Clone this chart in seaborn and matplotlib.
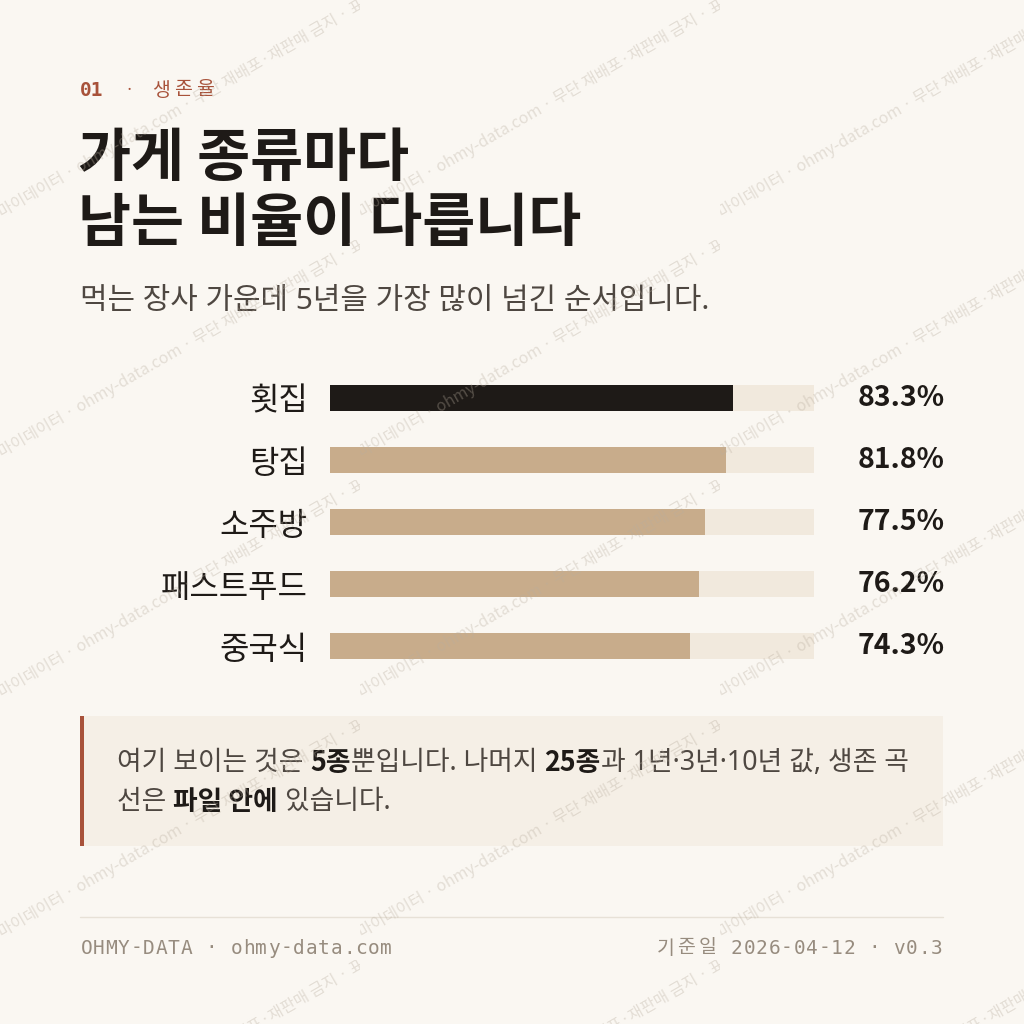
import matplotlib
matplotlib.use('Agg')
import matplotlib.pyplot as plt
import seaborn as sns
import pandas as pd
from matplotlib.transforms import Bbox, blended_transform_factory
from matplotlib.patches import Rectangle
from matplotlib.lines import Line2D

# ---- data ----
categories = ['횟집', '탕집', '소주방', '패스트푸드', '중국식']
survival_5y = [83.3, 81.8, 77.5, 76.2, 74.3]
value_labels = ['83.3%', '81.8%', '77.5%', '76.2%', '74.3%']
highlight = '횟집'
scale_max = [100, 100, 100, 100, 100]

eyebrow = ['01', '·', '생', '존', '율']
title_lines = ['가게 종류마다', '남는 비율이 다릅니다']
subtitle = '먹는 장사 가운데 5년을 가장 많이 넘긴 순서입니다.'
note_line1 = [('여기 보이는 것은 ', False), ('5종', True), ('뿐입니다. 나머지 ', False),
              ('25종', True), ('과 1년·3년·10년 값, 생존 곡', False)]
note_line2 = [('선은 ', False), ('파일 안에', True), (' 있습니다.', False)]
footer_left = 'OHMY-DATA · ohmy-data.com'
footer_right = '기준일 2026-04-12 · v0.3'
watermark = '마이데이터 · ohmy-data.com · 무단 재배포·재판매 금지 · 표본'

# ---- style ----
sns.set_theme(style='white')
KR = ['Noto Sans CJK KR', 'DejaVu Sans']
TXT = ['Noto Sans', 'Noto Sans CJK KR', 'DejaVu Sans']
MONO = ['DejaVu Sans Mono', 'Noto Sans CJK KR']
plt.rcParams['font.family'] = KR

BG = '#FAF7F2'
INK = '#1E1A17'
BODY = '#4E4741'
TAN = '#C8AC8B'
TRACK = '#F1E9DD'
RUST = '#A8523A'
BOX = '#F5EFE6'
MUTED = '#978C7F'
RULE = '#E7E1D7'

W = H = 1024
fig = plt.figure(figsize=(10.24, 10.24), dpi=100, facecolor=BG)


def fx(x):
    return x / W


def fy(y):
    return 1 - y / H


# ---- bar chart ----
ax = fig.add_axes([fx(330), fy(677), 484 / W, 310 / H])
ax.set_facecolor('none')
df = pd.DataFrame({'cat': categories, 'val': survival_5y, 'track': scale_max})
bw = 26 / 62
sns.barplot(data=df, y='cat', x='track', color=TRACK, width=bw, ax=ax,
            saturation=1, linewidth=0)
palette = {c: (INK if c == highlight else TAN) for c in categories}
sns.barplot(data=df, y='cat', x='val', hue='cat', palette=palette, width=bw,
            ax=ax, saturation=1, legend=False, linewidth=0)
ax.set_xlim(0, max(scale_max))
ax.set_ylim(len(categories) - 0.5, -0.5)
ax.set_xlabel('')
ax.set_ylabel('')
ax.set_xticks([])
sns.despine(ax=ax, left=True, bottom=True)
ax.tick_params(axis='y', length=0, pad=16, labelsize=23, labelcolor=INK)
for lab in ax.get_yticklabels():
    lab.set_family(KR)
tr = blended_transform_factory(ax.transAxes, ax.transData)
for i, lbl in enumerate(value_labels):
    ax.text(528 / 484, i, lbl, transform=tr, ha='left', va='center',
            fontsize=20.5, weight='bold', color=INK, family=KR)

# ---- header ----
eb_x = [80, 125, 152, 174, 196]
for s, x in zip(eyebrow, eb_x):
    fig.text(fx(x), fy(90), s, fontsize=14 if s != '·' else 12,
             weight='bold' if s == '01' else 'normal',
             family=MONO if s != '·' else KR, color=RUST, ha='left', va='center')

fig.text(fx(78), fy(159), title_lines[0], fontsize=41.5, weight='bold', color=INK,
         ha='left', va='center', family=KR)
fig.text(fx(78), fy(224), title_lines[1], fontsize=41.5, weight='bold', color=INK,
         ha='left', va='center', family=KR)
fig.text(fx(80), fy(301), subtitle, fontsize=21.5, color=BODY, ha='left',
         va='center', family=TXT)

# ---- callout box ----
fig.patches.append(Rectangle((fx(80), fy(846)), 863 / W, 130 / H,
                             transform=fig.transFigure, facecolor=BOX,
                             edgecolor='none', zorder=0))
fig.patches.append(Rectangle((fx(80), fy(846)), 4 / W, 130 / H,
                             transform=fig.transFigure, facecolor=RUST,
                             edgecolor='none', zorder=1))

renderer = fig.canvas.get_renderer()


def text_width(s, bold, size, family):
    t = fig.text(0, 0, s + '|', fontsize=size, weight='bold' if bold else 'normal',
                 family=family)
    t2 = fig.text(0, 0, '|', fontsize=size, weight='bold' if bold else 'normal',
                  family=family)
    w = t.get_window_extent(renderer).width - t2.get_window_extent(renderer).width
    t.remove()
    t2.remove()
    return w


def draw_runs(x, y, runs, size):
    for s, bold in runs:
        fam = KR if bold else TXT
        fig.text(fx(x), fy(y), s, fontsize=size,
                 weight='bold' if bold else 'normal',
                 color=INK if bold else BODY, ha='left', va='center', family=fam)
        x += text_width(s, bold, size, fam)


draw_runs(117, 763, note_line1, 19.3)
draw_runs(117, 802, note_line2, 19.3)

# ---- footer ----
fig.lines.append(Line2D([fx(80), fx(943)], [fy(917), fy(917)],
                        transform=fig.transFigure, color=RULE, lw=1))

PITCH = 12.5
WIDE = 21.0


def cell(ch):
    return WIDE if ord(ch) > 0x3000 else PITCH


def draw_mono(x, y, s):
    for ch in s:
        w = cell(ch)
        if ch != ' ':
            fig.text(fx(x + w / 2), fy(y), ch, fontsize=14, color=MUTED,
                     ha='center', va='center', family=MONO)
        x += w


draw_mono(80, 948, footer_left)
draw_mono(943 - sum(cell(c) for c in footer_right), 948, footer_right)

# ---- watermark ----
for ty in range(0, H + 240, 240):
    for tx in range(0, W, 360):
        t = fig.text(fx(tx + 2), fy(ty + 218), watermark, rotation=30,
                     rotation_mode='anchor', fontsize=11.5, color='#B9AE9F',
                     alpha=0.35, ha='left', va='baseline', zorder=10, family=KR)
        t.set_clip_box(Bbox.from_extents(tx, H - (ty + 240), tx + 360, H - ty))
        t.set_clip_on(True)

fig.savefig('out.png', dpi=100, facecolor=BG)
